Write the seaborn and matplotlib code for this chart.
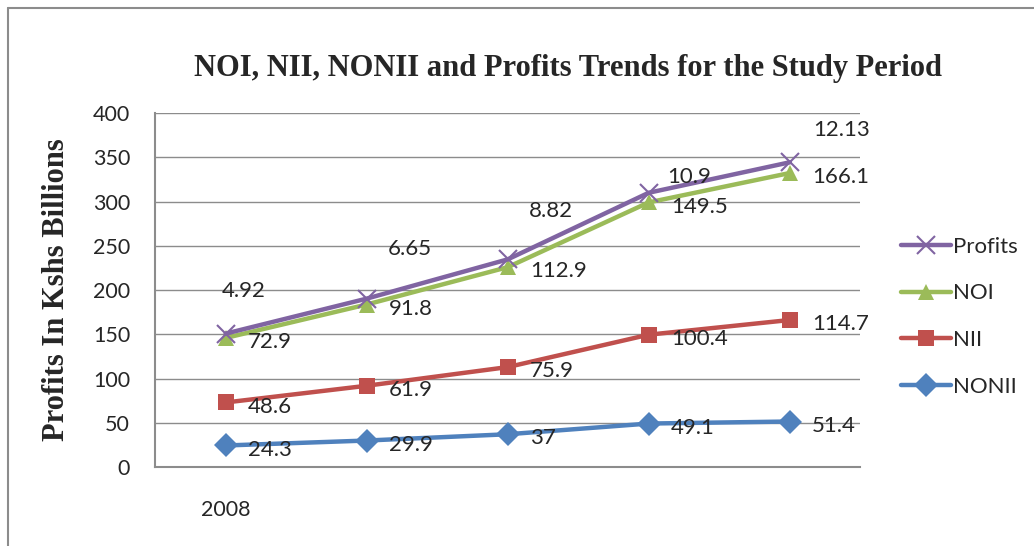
import pandas as pd
import numpy as np
import matplotlib.pyplot as plt
import seaborn as sns
from matplotlib.lines import Line2D

years = [2008, 2009, 2010, 2011, 2012]
xtick_labels = ["2008", "", "", "", ""]
nonii = [24.3, 29.9, 37, 49.1, 51.4]
nii = [48.6, 61.9, 75.9, 100.4, 114.7]
noi = [72.9, 91.8, 112.9, 149.5, 166.1]
profits = [4.92, 6.65, 8.82, 10.9, 12.13]

series_order = ["Profits", "NOI", "NII", "NONII"]
colors = {"Profits": "#8064A2", "NOI": "#9BBB59", "NII": "#C0504D", "NONII": "#4F81BD"}
markers = {"Profits": "x", "NOI": "^", "NII": "s", "NONII": "D"}

# stacked line chart, like the excel original
s_nonii = np.array(nonii)
s_nii = s_nonii + np.array(nii)
s_noi = s_nii + np.array(noi)
s_profits = s_noi + np.array(profits)

raw = {"Profits": profits, "NOI": noi, "NII": nii, "NONII": nonii}
stacked = {"Profits": s_profits, "NOI": s_noi, "NII": s_nii, "NONII": s_nonii}

rows = []
for name in series_order:
    for i, yr in enumerate(years):
        rows.append({"pos": i, "value": stacked[name][i], "label": raw[name][i], "series": name})
df = pd.DataFrame(rows)

sns.set_style("white")
plt.rcParams["font.family"] = ["Lato", "DejaVu Sans"]

fig = plt.figure(figsize=(10.34, 5.46), dpi=100)
ax = fig.add_axes([0.150, 0.1447, 0.682, 0.6483])

for v in range(0, 401, 50):
    ax.axhline(v, color="#8c8c8c", lw=1.0, zorder=0)

# draw bottom series first so upper ones sit on top
for name in series_order[::-1]:
    sub = df[df.series == name]
    sns.lineplot(data=sub, x="pos", y="value", color=colors[name], lw=3.2,
                 marker=markers[name], ax=ax)
    line = ax.get_lines()[-1]
    line.set_markeredgecolor(colors[name])
    line.set_markerfacecolor(colors[name])
    if markers[name] == "x":
        line.set_markeredgewidth(1.5)
        line.set_markersize(13)
    else:
        line.set_markeredgewidth(0)
        line.set_markersize(12)

# data labels
for name in ["NOI", "NII", "NONII"]:
    sub = df[df.series == name]
    for _, r in sub.iterrows():
        ax.annotate(f"{r['label']:g}", (r["pos"], r["value"]), xytext=(16, -3),
                    textcoords="offset points", ha="left", va="center", fontsize=16)

profit_offsets = [(13, 31), (31, 36), (31, 35), (29, 11), (37, 23)]
sub = df[df.series == "Profits"]
for (_, r), off in zip(sub.iterrows(), profit_offsets):
    ax.annotate(f"{r['label']:g}", (r["pos"], r["value"]), xytext=off,
                textcoords="offset points", ha="center", va="center", fontsize=16)

ax.set_xlim(-0.5, 4.5)
ax.set_ylim(0, 400)
ax.set_yticks(range(0, 401, 50))
ax.set_xticks(range(len(years)))
ax.set_xticklabels(xtick_labels)
ax.tick_params(axis="y", length=0, pad=18, labelsize=15.5)
ax.tick_params(axis="x", length=0, pad=24, labelsize=15.5)
ax.set_xlabel("")
ax.set_ylabel("Profits In Kshs Billions", fontsize=22, fontweight="bold",
              family="Liberation Serif", labelpad=16)
for side in ["top", "right"]:
    ax.spines[side].set_visible(False)
for side in ["left", "bottom"]:
    ax.spines[side].set_color("#8c8c8c")
    ax.spines[side].set_linewidth(1.5)

fig.text(0.549, 0.874, "NOI, NII, NONII and Profits Trends for the Study Period",
         ha="center", va="center", fontsize=22, fontweight="bold", family="Liberation Serif")

handles = [Line2D([], [], color=colors[n], lw=3.2, marker=markers[n],
                  markersize=13 if n == "Profits" else 12,
                  markeredgewidth=1.5 if n == "Profits" else 0,
                  markeredgecolor=colors[n], markerfacecolor=colors[n]) for n in series_order]
fig.legend(handles, series_order, loc="center left", bbox_to_anchor=(0.871, 0.42),
           frameon=False, fontsize=16, handlelength=2.25, labelspacing=1.2,
           handletextpad=0.1, borderaxespad=0, borderpad=0)

# outer chart border
fig.add_artist(Line2D([0.008, 0.008], [0, 0.985], color="#8c8c8c", lw=1.5, transform=fig.transFigure))
fig.add_artist(Line2D([0.008, 1.0], [0.985, 0.985], color="#8c8c8c", lw=1.5, transform=fig.transFigure))

fig.savefig("out.png", dpi=100)
